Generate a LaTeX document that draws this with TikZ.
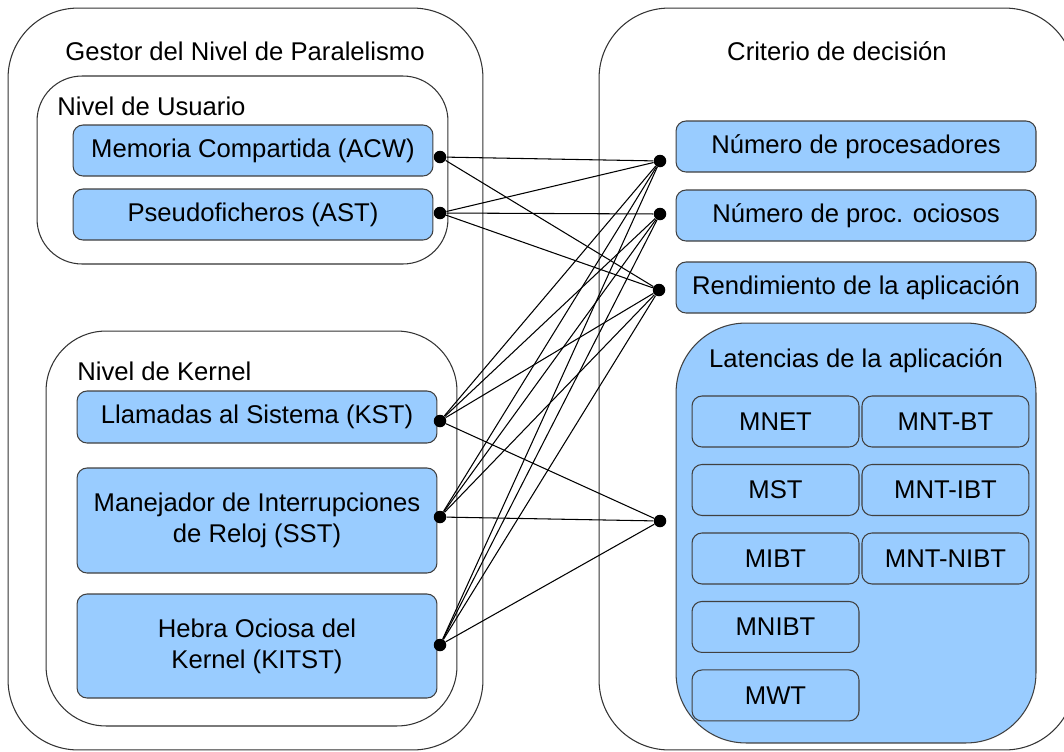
\documentclass[tikz,border=0pt]{standalone}
\usepackage{fontspec}
\setmainfont{Liberation Sans}
\usetikzlibrary{positioning}
\definecolor{boxblue}{RGB}{153,204,255}

\begin{document}
\begin{tikzpicture}[x=0.02cm,y=-0.02cm,-,node distance=1cm,
                    font=\fontsize{14.6}{17.5}\selectfont,
                    frame node/.style={draw=black!80,line width=0.6pt,inner sep=0pt,rounded corners=1.4cm},
                    level node/.style={draw=black!80,line width=0.6pt,inner sep=0pt,minimum width=8.22cm},
                    item node/.style={draw=black!75,fill=boxblue,line width=0.6pt,inner sep=0pt,rounded corners=0.2cm,
                                      minimum width=7.2cm,minimum height=1.02cm,align=center},
                    lat node/.style={item node,minimum width=3.34cm},
                    dot node/.style={circle,fill=black,inner sep=0pt,minimum size=0.25cm}]

  \useasboundingbox (0,0) rectangle (1064,751);
  \clip (0,0) rectangle (1064,751);

  % containers
  \node[frame node,minimum width=9.5cm,minimum height=14.84cm] (gestor) at (245.5,379) {};
  \node[frame node,minimum width=9.52cm,minimum height=14.84cm] (criterio) at (837,379) {};
  \node[level node,rounded corners=0.9cm,minimum height=3.76cm] (usuario) at (242.5,170) {};
  \node[level node,rounded corners=1.2cm,minimum height=7.9cm] (kernel) at (251.5,528.5) {};

  \node (gestor title) at (245,51) {Gestor del Nivel de Paralelismo};
  \node (criterio title) at (837,51) {Criterio de decisión};
  \node[anchor=west,inner sep=0pt] (usuario title) at (57,106) {Nivel de Usuario};
  \node[anchor=west,inner sep=0pt] (kernel title) at (77,371) {Nivel de Kernel};

  % mechanisms
  \node[item node] (acw) at (253,150.5) {Memoria Compartida (ACW)};
  \node[item node] (ast) at (253,214.5) {Pseudoficheros (AST)};
  \node[item node,minimum height=1.04cm] (kst) at (257,417) {Llamadas al Sistema (KST)};
  \node[item node,minimum height=2.1cm] (sst) at (257,520.5) {Manejador de Interrupciones\\de Reloj (SST)};
  \node[item node,minimum height=2.08cm] (kitst) at (257,646) {Hebra Ociosa del\\Kernel (KITST)};

  % criteria
  \node[item node] (np) at (856,146.5) {Número de procesadores};
  \node[item node] (npo) at (856,215.5) {Número de proc. ociosos};
  \node[item node] (ra) at (856,287.5) {Rendimiento de la aplicación};
  \node[item node,rounded corners=1.4cm,minimum height=8.4cm] (la) at (856,533) {};
  \node (la title) at (856,361) {Latencias de la aplicación};

  \begin{scope}[node distance=1.37cm]
    \node[lat node] (mnet) at (775.5,421.5) {MNET};
    \node[lat node] (mntbt) [right of=mnet,node distance=3.4cm] {MNT-BT};
    \node[lat node] (mst) [below of=mnet] {MST};
    \node[lat node] (mntibt) [right of=mst,node distance=3.4cm] {MNT-IBT};
    \node[lat node] (mibt) [below of=mst] {MIBT};
    \node[lat node] (mntnibt) [right of=mibt,node distance=3.4cm] {MNT-NIBT};
    \node[lat node] (mnibt) [below of=mibt] {MNIBT};
    \node[lat node] (mwt) [below of=mnibt] {MWT};
  \end{scope}

  % end points
  \node[dot node] (acw dot) at (440,157) {};
  \node[dot node] (ast dot) at (440,213) {};
  \node[dot node] (kst dot) at (440,421) {};
  \node[dot node] (sst dot) at (440,517) {};
  \node[dot node] (kitst dot) at (440,645) {};
  \node[dot node] (np dot) at (660,161) {};
  \node[dot node] (npo dot) at (660,214) {};
  \node[dot node] (ra dot) at (659,290) {};
  \node[dot node] (la dot) at (660,521) {};

  \path[line width=0.6pt]
  (acw dot) edge (np dot)
            edge (ra dot)
  (ast dot) edge (np dot)
            edge (npo dot)
            edge (ra dot)
  (kst dot) edge (np dot)
            edge (npo dot)
            edge (ra dot)
            edge (la dot)
  (sst dot) edge (np dot)
            edge (npo dot)
            edge (ra dot)
            edge (la dot)
  (kitst dot) edge (np dot)
              edge (npo dot)
              edge (ra dot)
              edge (la dot);

\end{tikzpicture}
\end{document}
